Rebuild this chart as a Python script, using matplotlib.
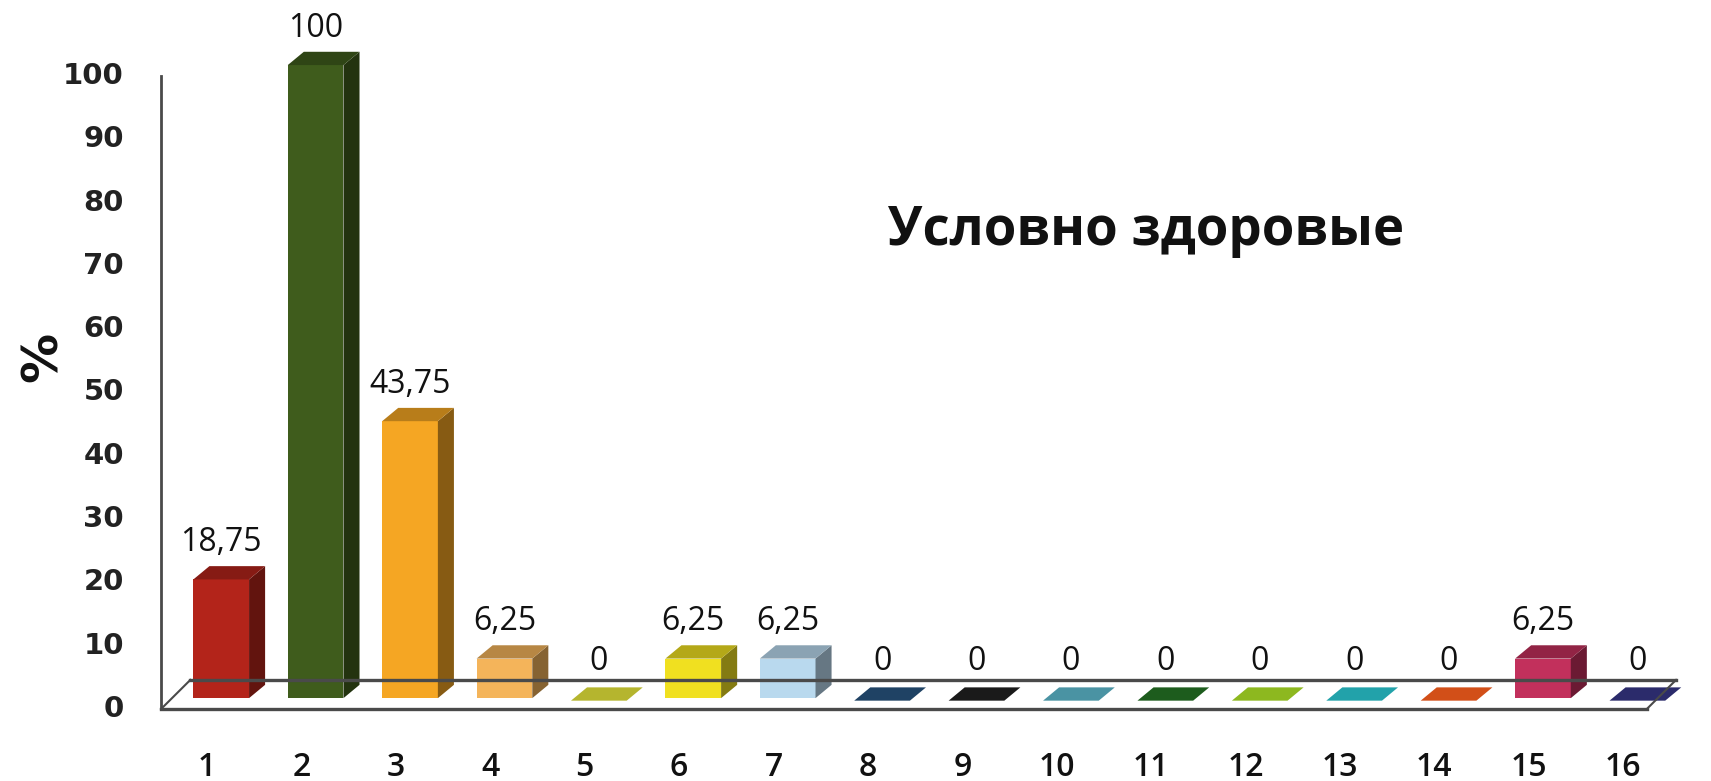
import numpy as np
import matplotlib.pyplot as plt
import matplotlib.colors as mcolors
from matplotlib.patches import Polygon

# data
categories = [str(i) for i in range(1, 17)]
values = [18.75, 100, 43.75, 6.25, 0, 6.25, 6.25, 0, 0, 0, 0, 0, 0, 0, 6.25, 0]
value_labels = ['18,75', '100', '43,75', '6,25', '0', '6,25', '6,25', '0',
                '0', '0', '0', '0', '0', '0', '6,25', '0']
bar_colors = ['#b3241a', '#3f5c1c', '#f5a623', '#f4b45a', '#b5b52e', '#f0e020',
              '#b9d9ee', '#1f4264', '#1a1a1a', '#4a93a3', '#1d5c1d', '#8db81f',
              '#22a2aa', '#d24f18', '#c2305c', '#2b2b6b']
y_ticks = [0, 10, 20, 30, 40, 50, 60, 70, 80, 90, 100]
title = 'Условно здоровые'

#%%
fig = plt.figure(figsize=(17.11, 7.81), dpi=100)
ax = fig.add_axes([0, 0, 1, 1])
ax.set_xlim(-1.193, 16.93)
ax.set_ylim(-11.37, 112.0)
ax.axis('off')

# floor / axis
fx0, fx1 = 0.513, 16.25
fdx, fdy = 0.31, 4.6
lc = '#4a4a4a'
ax.plot([fx0, fx1], [0, 0], color=lc, lw=2.4)
ax.plot([fx0 + fdx, fx1 + fdx], [fdy, fdy], color=lc, lw=2.4)
ax.plot([fx0, fx0 + fdx], [0, fdy], color=lc, lw=1.5)
ax.plot([fx1, fx1 + fdx], [0, fdy], color=lc, lw=1.5)
ax.plot([fx0, fx0], [0, 100], color=lc, lw=2)

for t in y_ticks:
    ax.text(0.12, t, str(t), ha='right', va='center', fontsize=21,
            fontweight='bold', family='DejaVu Sans', color='#222222')
ax.text(-0.74, 55.6, '%', rotation=90, ha='center', va='center', fontsize=36,
        fontweight='bold', family='DejaVu Sans', color='#111111')

# pseudo 3d bars
w, yb, ddx, ddy = 0.59, 1.72, 0.17, 2.1
for i, (v, c, lab) in enumerate(zip(values, bar_colors, value_labels)):
    xc = i + 1 + 0.15
    xl, xr = xc - w / 2, xc + w / 2
    base = np.array(mcolors.to_rgb(c))
    side = base * 0.55
    top = base * 0.75
    if v > 0:
        ax.add_patch(Polygon([(xl, yb), (xr, yb), (xr, yb + v), (xl, yb + v)],
                             closed=True, facecolor=c, edgecolor='none'))
        ax.add_patch(Polygon([(xr, yb), (xr + ddx, yb + ddy), (xr + ddx, yb + v + ddy),
                              (xr, yb + v)], closed=True, facecolor=side, edgecolor='none'))
        ax.add_patch(Polygon([(xl, yb + v), (xr, yb + v), (xr + ddx, yb + v + ddy),
                              (xl + ddx, yb + v + ddy)], closed=True, facecolor=top,
                             edgecolor='none'))
    else:
        ax.add_patch(Polygon([(xl, yb - 0.4), (xr, yb - 0.4), (xr + ddx, yb + ddy - 0.4),
                              (xl + ddx, yb + ddy - 0.4)], closed=True, facecolor=c,
                             edgecolor='none'))
    ax.annotate(lab, (xc, yb + v + ddy), xytext=(0, 5), textcoords='offset points',
                ha='center', va='bottom', fontsize=23, family='Open Sans',
                fontweight='medium', color='#111111')
    ax.text(i + 1, -9.2, categories[i], ha='center', va='center', fontsize=23,
            family='Open Sans', fontweight='semibold', color='#111111')

ax.text(10.95, 75.5, title, ha='center', va='center', fontsize=38,
        family='Open Sans', fontweight='bold', color='#111111')

fig.savefig('out.png', dpi=100)
